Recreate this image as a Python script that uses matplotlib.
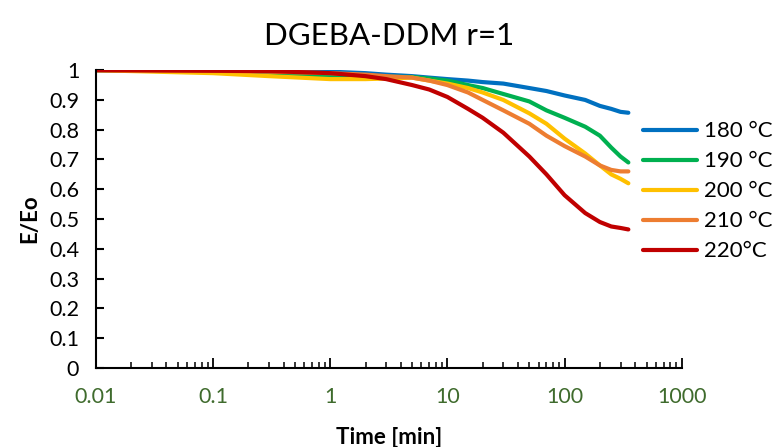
import matplotlib.pyplot as plt
from matplotlib.ticker import LogLocator, FixedLocator, NullFormatter

plt.rcParams['font.family'] = ['Lato', 'DejaVu Sans']

time_min = [0.01, 0.1, 0.3, 1, 2, 3, 5, 7, 10, 15, 20, 30, 50, 70, 100, 150, 200, 250, 300, 350]
e_180 = [1.0, 0.998, 0.997, 0.995, 0.99, 0.985, 0.98, 0.975, 0.97, 0.965, 0.96, 0.955, 0.94, 0.93, 0.915, 0.9, 0.88, 0.87, 0.86, 0.857]
e_190 = [1.0, 0.995, 0.99, 0.98, 0.978, 0.978, 0.977, 0.972, 0.965, 0.95, 0.94, 0.92, 0.895, 0.865, 0.84, 0.81, 0.78, 0.74, 0.71, 0.69]
e_200 = [1.0, 0.99, 0.98, 0.97, 0.97, 0.972, 0.975, 0.965, 0.955, 0.94, 0.925, 0.9, 0.855, 0.82, 0.77, 0.72, 0.68, 0.65, 0.635, 0.62]
e_210 = [1.0, 0.998, 0.995, 0.99, 0.985, 0.98, 0.975, 0.965, 0.95, 0.925, 0.9, 0.865, 0.82, 0.78, 0.745, 0.71, 0.68, 0.665, 0.66, 0.66]
e_220 = [1.0, 0.998, 0.997, 0.99, 0.98, 0.97, 0.95, 0.935, 0.91, 0.87, 0.84, 0.79, 0.71, 0.65, 0.58, 0.52, 0.49, 0.475, 0.47, 0.465]

labels = ["180 °C", "190 °C", "200 °C", "210 °C", "220°C"]
colors = ["#0070C0", "#00B050", "#FFC000", "#ED7D31", "#C00000"]

fig = plt.figure(figsize=(7.73, 4.47), dpi=100)
ax = fig.add_axes([0.124, 0.177, 0.758, 0.666])

for ys, lab, c in zip([e_180, e_190, e_200, e_210, e_220], labels, colors):
    ax.plot(time_min, ys, color=c, lw=3, label=lab, solid_capstyle="round")

ax.set_xscale("log")
ax.set_xlim(0.01, 1000)
ax.set_ylim(0, 1)
ax.set_yticks([i / 10 for i in range(11)])
ax.set_yticklabels(["0", "0.1", "0.2", "0.3", "0.4", "0.5", "0.6", "0.7", "0.8", "0.9", "1"])
ax.xaxis.set_major_locator(FixedLocator([0.01, 0.1, 1, 10, 100, 1000]))
ax.set_xticklabels(["0.01", "0.1", "1", "10", "100", "1000"])
ax.xaxis.set_minor_locator(LogLocator(base=10, subs=range(2, 10)))
ax.xaxis.set_minor_formatter(NullFormatter())

for s in ["top", "right"]:
    ax.spines[s].set_visible(False)
for s in ["left", "bottom"]:
    ax.spines[s].set_linewidth(1.5)

ax.tick_params(axis="y", direction="in", length=6, width=1.5, labelsize=15.5, pad=12)
ax.tick_params(axis="x", which="major", direction="in", length=7, width=1.3,
               labelsize=15.5, labelcolor="#3F6B2D", pad=14)
ax.tick_params(axis="x", which="minor", direction="in", length=4, width=1.1)

ax.set_xlabel("Time [min]", fontsize=16, fontweight="bold", labelpad=14)
ax.set_ylabel("E/Eo", fontsize=16, fontweight="bold", labelpad=6)
ax.set_title("DGEBA-DDM r=1", fontsize=22.5, pad=18)

ax.legend(loc="upper left", bbox_to_anchor=(0.933, 0.828), frameon=False, fontsize=16,
          borderpad=0, borderaxespad=0, handlelength=2.45, handletextpad=0.3,
          labelspacing=0.45)

fig.savefig("out.png", dpi=100)
